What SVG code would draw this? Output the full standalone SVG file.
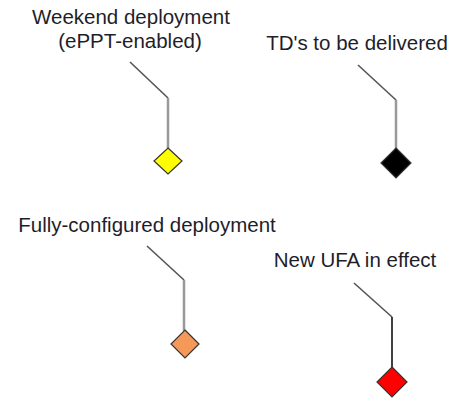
<svg xmlns="http://www.w3.org/2000/svg" width="468" height="398" viewBox="0 0 468 398">
<style>
text{font-family:"Liberation Sans",Arial,sans-serif;font-size:20.5px;fill:#1e1e2a;text-anchor:middle}
.diag{fill:none;stroke:#555;stroke-width:1.6}
.vert{fill:none;stroke:#999;stroke-width:2.5}
.vblack{fill:none;stroke:#111;stroke-width:1.6}
.dia{stroke:#333;stroke-width:1.2}
</style>
<rect width="468" height="398" fill="#fff"/>
<g id="connectors">
<path class="diag" d="M130,62 L168,98"/>
<path class="vert" d="M168,98 L168,148"/>
<path class="diag" d="M358,65 L396,100"/>
<path class="vert" d="M396,100 L396,149"/>
<path class="diag" d="M147,246 L184,280"/>
<path class="vert" d="M184,280 L184,331"/>
<path class="diag" d="M354,283 L392,317"/>
<path class="vblack" d="M392,317 L392,368"/>
</g>
<g id="weekend">
<text x="131" y="24">Weekend deployment</text>
<text x="130" y="48">(ePPT-enabled)</text>
<polygon class="dia" fill="#ffff00" points="168,148 182,161 168,174 154,161"/>
</g>
<g id="tds">
<text x="357" y="50">TD's to be delivered</text>
<polygon class="dia" fill="#000" points="396,148 411,163 396,178 381,163"/>
</g>
<g id="fully">
<text x="147" y="232">Fully-configured deployment</text>
<polygon class="dia" fill="#f5995a" points="185,330 199,344 185,358 171,344"/>
</g>
<g id="ufa">
<text x="355" y="267">New UFA in effect</text>
<polygon class="dia" fill="#ff0000" points="392,367 407,382 392,397 377,382"/>
</g>
</svg>
